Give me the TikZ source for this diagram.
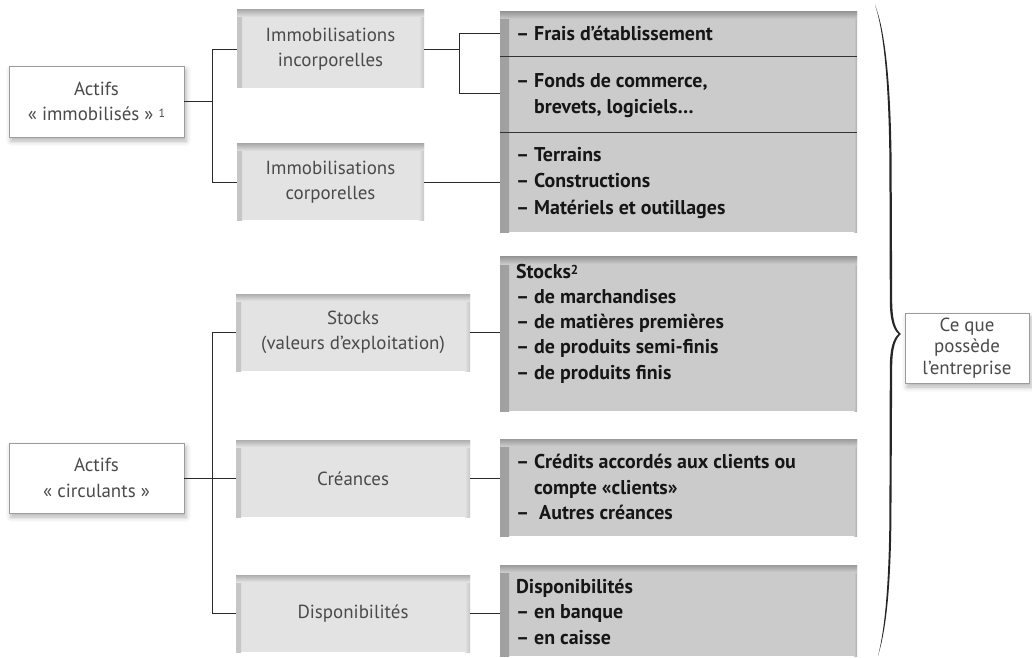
\documentclass[tikz,border=0pt]{standalone}
\usepackage{fontspec}
\setmainfont{PT Sans}
\usetikzlibrary{shadows.blur}
\definecolor{midgray}{HTML}{E3E3E3}
\definecolor{midedge}{HTML}{C6C6C6}
\definecolor{midtop}{HTML}{AEAEAE}
\definecolor{rgray}{HTML}{CBCBCB}
\definecolor{redge}{HTML}{A0A0A0}
\definecolor{rtop}{HTML}{9A9A9A}
\definecolor{lighttext}{HTML}{4A4A4A}
\definecolor{darktext}{HTML}{161616}
\definecolor{wborder}{HTML}{9C9C9C}
\definecolor{linkcol}{HTML}{2A2A2A}
\begin{document}
\begin{tikzpicture}[x=1bp,y=-1bp,
  every node/.style={inner sep=0pt, outer sep=0pt},
  lightfont/.style={font=\fontsize{19}{25.5}\selectfont},
  whitebox/.style={draw=wborder, line width=0.8bp, fill=white, align=center,
     text=lighttext, lightfont,
     blur shadow={shadow xshift=2bp, shadow yshift=-4bp, shadow blur radius=5bp, shadow opacity=30}},
  midbox/.style={fill=midgray, align=center, text=lighttext, lightfont,
     path picture={
       \shade[left color=midedge, right color=midgray] (path picture bounding box.south west) rectangle ([xshift=5bp]path picture bounding box.north west);
       \shade[left color=midgray, right color=midedge] ([xshift=-5bp]path picture bounding box.south east) rectangle (path picture bounding box.north east);
       \shade[top color=midtop, bottom color=midgray] ([yshift=-7bp]path picture bounding box.north west) rectangle (path picture bounding box.north east);
     }},
  rbox/.style={fill=rgray,
     path picture={
       \shade[left color=redge, right color=rgray] (path picture bounding box.south west) rectangle ([xshift=9bp]path picture bounding box.north west);
       \shade[left color=rgray, right color=rgray!85!black] ([xshift=-3bp]path picture bounding box.south east) rectangle (path picture bounding box.north east);
       \shade[top color=rtop, bottom color=rgray] ([yshift=-7bp]path picture bounding box.north west) rectangle (path picture bounding box.north east);
     }},
  rtext/.style={anchor=base west, text=darktext, font=\bfseries\fontsize{20}{25}\selectfont},
  link/.style={draw=linkcol, line width=0.9bp},
  divider/.style={draw=black!80, line width=1bp},
]
\useasboundingbox (0,0) rectangle (1032,658);

% left boxes
\node[whitebox, minimum width=175bp, minimum height=71bp] (A1) at (96.5,101.5) {Actifs\\«~immobilisés~» {\fontsize{12}{12}\selectfont\raisebox{0.55ex}{1}}};
\node[whitebox, minimum width=175bp, minimum height=70bp] (A2) at (96.5,478) {Actifs\\«~circulants~»};

% middle boxes
\node[midbox, minimum width=187bp, minimum height=78bp] (B1) at (330.5,49) {Immobilisations\\incorporelles};
\node[midbox, minimum width=187bp, minimum height=76bp] (B2) at (330.5,182) {Immobilisations\\corporelles};
\node[midbox, minimum width=234bp, minimum height=77bp] (B3) at (353,332.5) {Stocks\\(valeurs d’exploitation)};
\node[midbox, minimum width=234bp, minimum height=77bp] (B4) at (353,478.5) {Créances};
\node[midbox, minimum width=234bp, minimum height=77bp] (B5) at (353,613.5) {Disponibilités};

% right boxes
\node[rbox, minimum width=357bp, minimum height=220bp] (C1) at (678.5,122) {};
\node[rbox, minimum width=357bp, minimum height=154bp] (C2) at (678.5,334) {};
\node[rbox, minimum width=357bp, minimum height=97bp] (C3) at (678.5,487.5) {};
\node[rbox, minimum width=357bp, minimum height=91bp] (C4) at (678.5,610.5) {};

% dividers in C1
\coordinate (d1) at (0,57);
\coordinate (d2) at (0,133);
\draw[divider] (C1.west |- d1) -- (C1.east |- d1);
\draw[divider] (C1.west |- d2) -- (C1.east |- d2);

% right texts
\node[rtext] (t11) at (516,41) {– Frais d’établissement};
\node[rtext] (t12) at (516,88) {– Fonds de commerce,};
\node[rtext] (t13) at (516,114) {\phantom{– }brevets, logiciels…};
\node[rtext] (t14) at (516,162) {– Terrains};
\node[rtext] (t15) at (516,188) {– Constructions};
\node[rtext] (t16) at (516,214) {– Matériels et outillages};

\node[rtext] (t21) at (516,278) {Stocks{\fontsize{13}{13}\selectfont\raisebox{0.6ex}{2}}};
\node[rtext] (t22) at (516,303) {– de marchandises};
\node[rtext] (t23) at (516,328) {– de matières premières};
\node[rtext] (t24) at (516,353) {– de produits semi-finis};
\node[rtext] (t25) at (516,379) {– de produits finis};

\node[rtext] (t31) at (516,468) {– Crédits accordés aux clients ou};
\node[rtext] (t32) at (516,494) {\phantom{– }compte «clients»};
\node[rtext] (t33) at (516,519) {–\ \ Autres créances};

\node[rtext] (t41) at (516,593) {Disponibilités};
\node[rtext] (t42) at (516,618) {– en banque};
\node[rtext] (t43) at (516,644) {– en caisse};

% Ce que possède l'entreprise
\node[whitebox, minimum width=124bp, minimum height=70bp, font=\fontsize{19}{21.5}\selectfont] (D) at (967,348) {Ce que\\possède\\l’entreprise};

% connectors
\coordinate (bus1) at (212,0);
\coordinate (bus2) at (459,0);
\coordinate (e1) at (500,33);
\coordinate (e2) at (500,93);

\draw[link] (A1.east) -- (A1.east -| bus1);
\draw[link] (B1.west) -| (bus1 |- B2.west) -- (B2.west);
\draw[link] (B1.east) -- (B1.east -| bus2);
\draw[link] (e1) -| (bus2 |- e2) -- (e2);
\draw[link] (B2.east) -- (B2.east -| C1.west);

\draw[link] (A2.east) -- (A2.east -| bus1);
\draw[link] (B3.west) -| (bus1 |- B5.west) -- (B5.west);
\draw[link] (B4.west) -- (B4.west -| bus1);
\draw[link] (B3.east) -- (B3.east -| C2.west);
\draw[link] (B4.east) -- (B4.east -| C3.west);
\draw[link] (B5.east) -- (B5.east -| C4.west);

% brace
\fill[black!85] (875,5) .. controls (885,30) and (890.6,80) .. (891.6,160)
  -- (892.2,300) .. controls (892.2,322) and (896,330) .. (901,334)
  .. controls (896,338) and (892.2,346) .. (892.2,368)
  -- (891.4,520) .. controls (890.6,590) and (886,630) .. (878,656)
  .. controls (884.5,630) and (888.6,590) .. (889.4,520)
  -- (889.8,368) .. controls (889.8,346) and (894,338) .. (898.5,334)
  .. controls (894,330) and (889.8,322) .. (889.8,300)
  -- (889.4,160) .. controls (888.6,80) and (883.5,30) .. (875,5) -- cycle;
\end{tikzpicture}
\end{document}
